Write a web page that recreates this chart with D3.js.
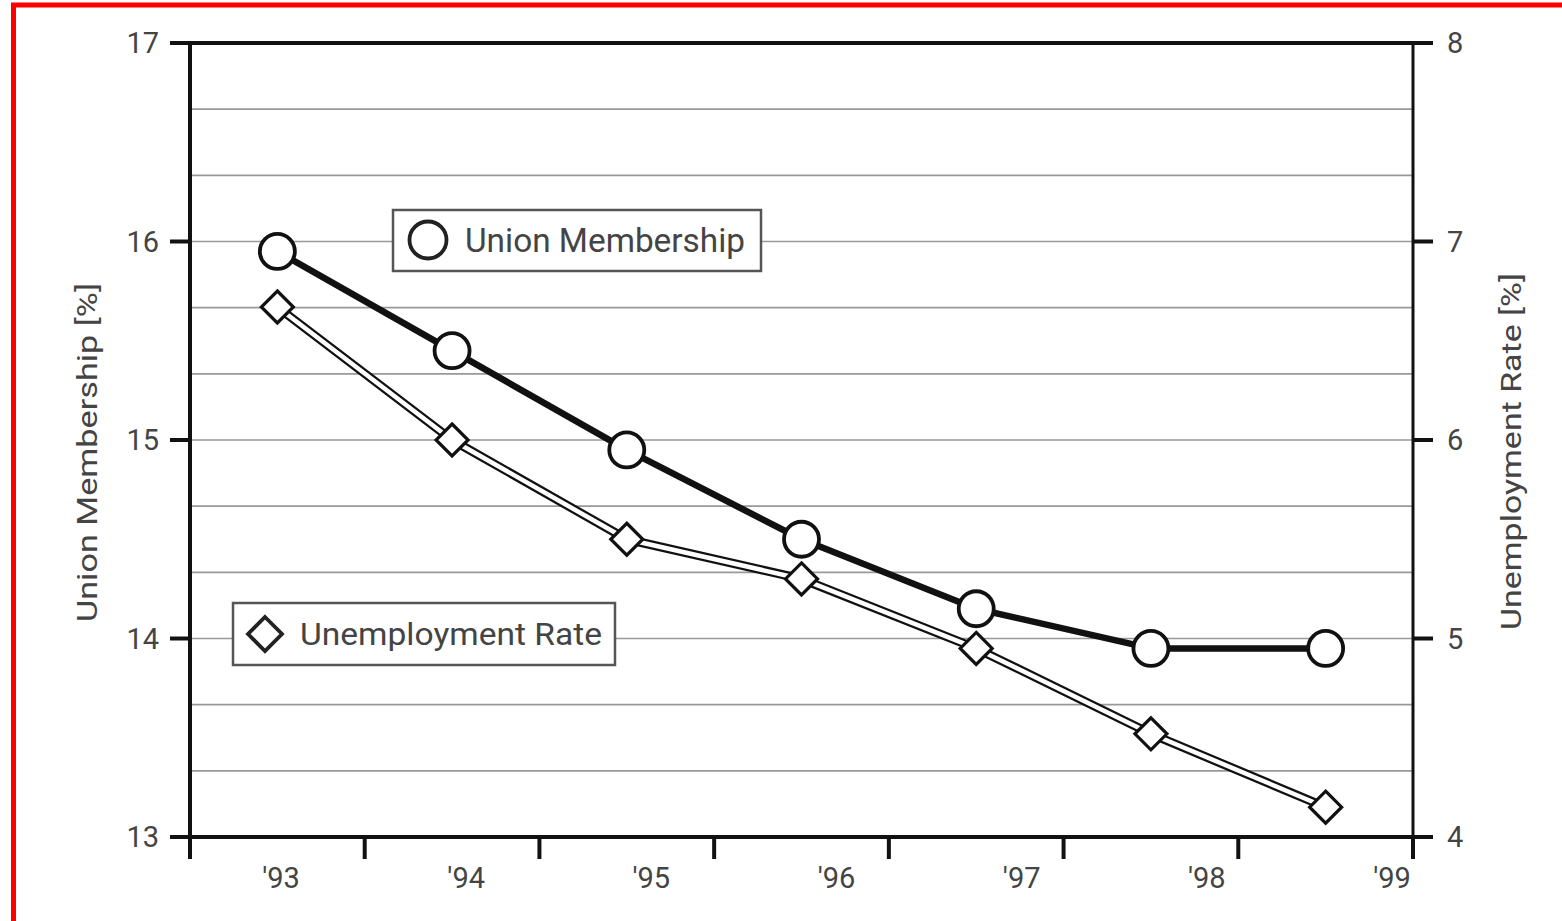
<!DOCTYPE html>
<html>
<head>
<meta charset="utf-8">
<script src="https://cdn.jsdelivr.net/npm/d3@7"></script>
<style>
  html, body { margin: 0; padding: 0; background: #fff; }
  svg { display: block; }
  text { font-family: Roboto, "Noto Sans", sans-serif; fill: #444; }
</style>
</head>
<body>
<svg id="chart" width="1562" height="921"></svg>
<script>
// Years and the two series
const years = [1993, 1994, 1995, 1996, 1997, 1998, 1999];
const yearLabels = ["'93", "'94", "'95", "'96", "'97", "'98", "'99"];
const unionMembership = [15.95, 15.45, 14.95, 14.5, 14.15, 13.95, 13.95];
const unemploymentRate = [6.67, 6.0, 5.5, 5.3, 4.95, 4.52, 4.15];
const leftTicks = [13, 14, 15, 16, 17];
const rightTicks = [4, 5, 6, 7, 8];

const m = { left: 190, right: 1413, top: 43, bottom: 837 };

const svg = d3.select("#chart");

// red frame
svg.append("rect")
  .attr("x", 13.5).attr("y", 5).attr("width", 1700).attr("height", 1100)
  .attr("fill", "none").attr("stroke", "#f00").attr("stroke-width", 5);

const x = d3.scaleBand().domain(years).range([m.left, m.right]).padding(0);
const yL = d3.scaleLinear().domain([13, 17]).range([m.bottom, m.top]);
const yR = d3.scaleLinear().domain([4, 8]).range([m.bottom, m.top]);
// year labels sit on their own, slightly wider spacing
const xLabel = d3.scaleLinear().domain([1993, 1999]).range([281, 1392]);

// horizontal grid, every third of a unit
const gridVals = d3.range(0, 13).map(i => 13 + i / 3);
svg.append("g").selectAll("line").data(gridVals).join("line")
  .attr("x1", m.left).attr("x2", m.right)
  .attr("y1", d => yL(d)).attr("y2", d => yL(d))
  .attr("stroke", "#999").attr("stroke-width", 1.6);

// frame lines
const axisColor = "#111";
svg.append("line").attr("x1", m.left - 20).attr("x2", m.right + 20)
  .attr("y1", m.top).attr("y2", m.top).attr("stroke", axisColor).attr("stroke-width", 4);
svg.append("line").attr("x1", m.left - 20).attr("x2", m.right + 20)
  .attr("y1", m.bottom).attr("y2", m.bottom).attr("stroke", axisColor).attr("stroke-width", 4);
svg.append("line").attr("x1", m.left).attr("x2", m.left)
  .attr("y1", m.top - 2).attr("y2", m.bottom + 22).attr("stroke", axisColor).attr("stroke-width", 4);
svg.append("line").attr("x1", m.right).attr("x2", m.right)
  .attr("y1", m.top - 2).attr("y2", m.bottom + 22).attr("stroke", axisColor).attr("stroke-width", 3);

// left axis
const gL = svg.append("g");
gL.selectAll("line").data(leftTicks).join("line")
  .attr("x1", m.left - 20).attr("x2", m.left)
  .attr("y1", d => yL(d)).attr("y2", d => yL(d))
  .attr("stroke", axisColor).attr("stroke-width", 4);
gL.selectAll("text").data(leftTicks).join("text")
  .attr("x", m.left - 31).attr("y", d => yL(d))
  .attr("dy", "0.36em").attr("text-anchor", "end")
  .attr("font-size", 29).text(d => d);

// right axis
const gR = svg.append("g");
gR.selectAll("line").data(rightTicks).join("line")
  .attr("x1", m.right).attr("x2", m.right + 20)
  .attr("y1", d => yR(d)).attr("y2", d => yR(d))
  .attr("stroke", axisColor).attr("stroke-width", 4);
gR.selectAll("text").data(rightTicks).join("text")
  .attr("x", m.right + 34).attr("y", d => yR(d))
  .attr("dy", "0.36em").attr("text-anchor", "start")
  .attr("font-size", 29).text(d => d);

// bottom axis ticks at year boundaries
const edges = years.map(d => x(d)).concat([m.right]);
svg.append("g").selectAll("line").data(edges).join("line")
  .attr("x1", d => d).attr("x2", d => d)
  .attr("y1", m.bottom).attr("y2", m.bottom + 22)
  .attr("stroke", axisColor).attr("stroke-width", 4);
svg.append("g").selectAll("text").data(years).join("text")
  .attr("x", d => xLabel(d)).attr("y", 888)
  .attr("text-anchor", "middle").attr("font-size", 29)
  .text((d, i) => yearLabels[i]);

// axis titles
svg.append("text")
  .attr("transform", `translate(97,${(283 + 622) / 2}) rotate(-90)`)
  .attr("text-anchor", "middle").attr("font-size", 28)
  .attr("textLength", 339).attr("lengthAdjust", "spacingAndGlyphs")
  .text("Union Membership [%]");
svg.append("text")
  .attr("transform", `translate(1521,${(273 + 630) / 2}) rotate(-90)`)
  .attr("text-anchor", "middle").attr("font-size", 28)
  .attr("textLength", 357).attr("lengthAdjust", "spacingAndGlyphs")
  .text("Unemployment Rate [%]");

const cx = d => x(d) + x.bandwidth() / 2;

// union membership: heavy solid line with open circles
const lineU = d3.line().x((d, i) => cx(years[i])).y(d => yL(d));
svg.append("path").datum(unionMembership)
  .attr("d", lineU).attr("fill", "none")
  .attr("stroke", "#111").attr("stroke-width", 6.5).attr("stroke-linejoin", "round");

// unemployment: outlined double line with open diamonds
const lineE = d3.line().x((d, i) => cx(years[i])).y(d => yR(d));
svg.append("path").datum(unemploymentRate)
  .attr("d", lineE).attr("fill", "none")
  .attr("stroke", "#111").attr("stroke-width", 9).attr("stroke-linejoin", "round");
svg.append("path").datum(unemploymentRate)
  .attr("d", lineE).attr("fill", "none")
  .attr("stroke", "#fff").attr("stroke-width", 4.5).attr("stroke-linejoin", "round");

svg.append("g").selectAll("circle").data(unionMembership).join("circle")
  .attr("cx", (d, i) => cx(years[i])).attr("cy", d => yL(d)).attr("r", 17.5)
  .attr("fill", "#fff").attr("stroke", "#111").attr("stroke-width", 3.8);

const diamond = (r) => `M0,${-r}L${r},0L0,${r}L${-r},0Z`;
svg.append("g").selectAll("path").data(unemploymentRate).join("path")
  .attr("transform", (d, i) => `translate(${cx(years[i])},${yR(d)})`)
  .attr("d", diamond(16))
  .attr("fill", "#fff").attr("stroke", "#111").attr("stroke-width", 3.2);

// legends
const lg1 = svg.append("g").attr("transform", "translate(393,210)");
lg1.append("rect").attr("width", 368).attr("height", 61)
  .attr("fill", "#fff").attr("stroke", "#555").attr("stroke-width", 2.5);
lg1.append("circle").attr("cx", 35).attr("cy", 30).attr("r", 18.5)
  .attr("fill", "#fff").attr("stroke", "#222").attr("stroke-width", 3.8);
lg1.append("text").attr("x", 72).attr("y", 42).attr("font-size", 33)
  .attr("textLength", 280).attr("lengthAdjust", "spacingAndGlyphs")
  .attr("fill", "#333").text("Union Membership");

const lg2 = svg.append("g").attr("transform", "translate(233,603)");
lg2.append("rect").attr("width", 382).attr("height", 62)
  .attr("fill", "#fff").attr("stroke", "#555").attr("stroke-width", 2.5);
lg2.append("path").attr("transform", "translate(32,31)").attr("d", diamond(17))
  .attr("fill", "#fff").attr("stroke", "#222").attr("stroke-width", 3.8);
lg2.append("text").attr("x", 67).attr("y", 42).attr("font-size", 31)
  .attr("textLength", 302).attr("lengthAdjust", "spacingAndGlyphs")
  .attr("fill", "#333").text("Unemployment Rate");
</script>
</body>
</html>
